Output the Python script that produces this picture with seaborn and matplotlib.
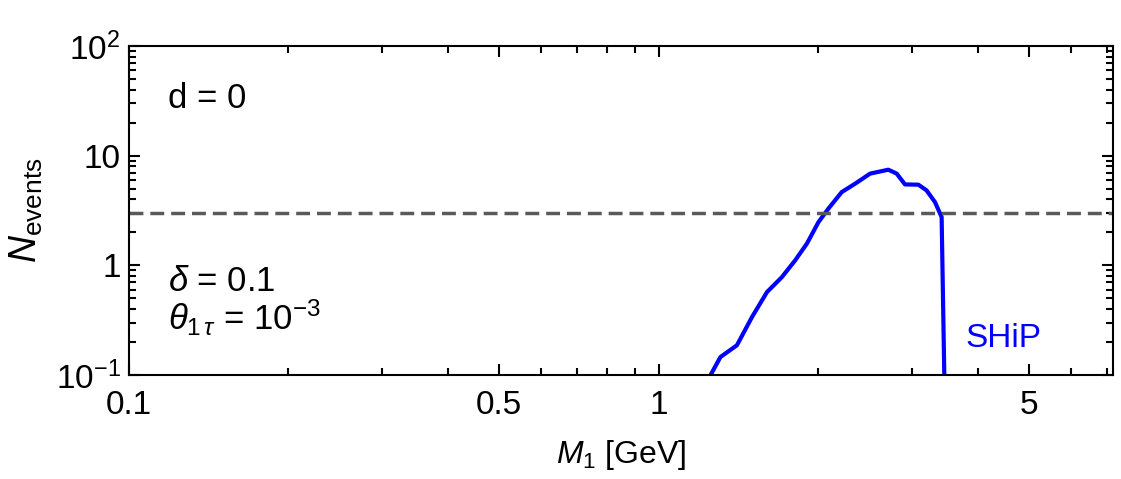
import numpy as np
import pandas as pd
import matplotlib
matplotlib.use("Agg")
import matplotlib.pyplot as plt
import matplotlib.ticker as mticker
import seaborn as sns

# SHiP curve
mass = [1.252, 1.307, 1.404, 1.499, 1.600, 1.707, 1.808, 1.903, 2.001, 2.089,
        2.214, 2.346, 2.504, 2.711, 2.811, 2.914, 3.088, 3.200, 3.319, 3.417, 3.457]
n_events = [0.1, 0.146, 0.187, 0.338, 0.571, 0.782, 1.11, 1.58, 2.48, 3.29,
            4.66, 5.55, 6.86, 7.45, 6.86, 5.47, 5.44, 4.83, 3.78, 2.76, 0.1]
threshold = 3.0

x_ticks = [0.1, 0.5, 1, 5]
x_labels = ["0.1", "0.5", "1", "5"]
y_ticks = [0.1, 1, 10, 100]
y_labels = [r"$10^{-1}$", "1", "10", r"$10^{2}$"]

sns.set_style("ticks")
plt.rcParams["font.family"] = ["Liberation Sans", "DejaVu Sans"]
plt.rcParams["mathtext.fontset"] = "custom"
plt.rcParams["mathtext.rm"] = "Liberation Sans"
plt.rcParams["mathtext.it"] = "Liberation Sans:italic"
plt.rcParams["text.color"] = "black"
plt.rcParams["axes.labelcolor"] = "black"
plt.rcParams["xtick.color"] = "black"
plt.rcParams["ytick.color"] = "black"
plt.rcParams["axes.edgecolor"] = "black"

df = pd.DataFrame({"M1": mass, "N": n_events})

fig = plt.figure(figsize=(11.21, 4.79), dpi=100)
ax = fig.add_axes([0.115, 0.217, 0.878, 0.687])

sns.lineplot(data=df, x="M1", y="N", ax=ax, color="#0000ff", lw=3, sort=False)
ax.axhline(threshold, color="#5a5a5a", ls=(0, (4, 2)), lw=2.5)

ax.set_xscale("log")
ax.set_yscale("log")
ax.set_xlim(0.1, 7.2)
ax.set_ylim(0.1, 100)

ax.xaxis.set_major_locator(mticker.FixedLocator(x_ticks))
ax.xaxis.set_major_formatter(mticker.FixedFormatter(x_labels))
ax.xaxis.set_minor_locator(mticker.LogLocator(base=10, subs=np.arange(1, 10)))
ax.xaxis.set_minor_formatter(mticker.NullFormatter())
ax.yaxis.set_major_locator(mticker.FixedLocator(y_ticks))
ax.yaxis.set_major_formatter(mticker.FixedFormatter(y_labels))
ax.yaxis.set_minor_locator(mticker.LogLocator(base=10, subs=np.arange(1, 10)))
ax.yaxis.set_minor_formatter(mticker.NullFormatter())

ax.tick_params(which="both", direction="in", top=True, right=True, labelsize=24, width=1.5)
ax.tick_params(which="major", length=8)
ax.tick_params(which="minor", length=5)
ax.tick_params(axis="x", which="major", pad=11)
ax.tick_params(axis="y", which="major", pad=6)
for s in ax.spines.values():
    s.set_linewidth(1.5)

ax.set_xlabel(r"$M_1$ [GeV]", fontsize=23, labelpad=12)
ax.set_ylabel(r"$N_{\mathrm{events}}$", fontsize=27, labelpad=8)

ax.text(0.04, 0.84, "d = 0", transform=ax.transAxes, fontsize=25, va="center")
ax.text(0.04, 0.285, r"$\delta$ = 0.1", transform=ax.transAxes, fontsize=25, va="center")
ax.text(0.04, 0.175, r"$\theta_{1\,\tau}$ = $10^{-3}$", transform=ax.transAxes, fontsize=25, va="center")
ax.text(0.85, 0.11, "SHiP", transform=ax.transAxes, fontsize=24, color="#0000ff", va="center")

fig.savefig("out.png", dpi=100)
